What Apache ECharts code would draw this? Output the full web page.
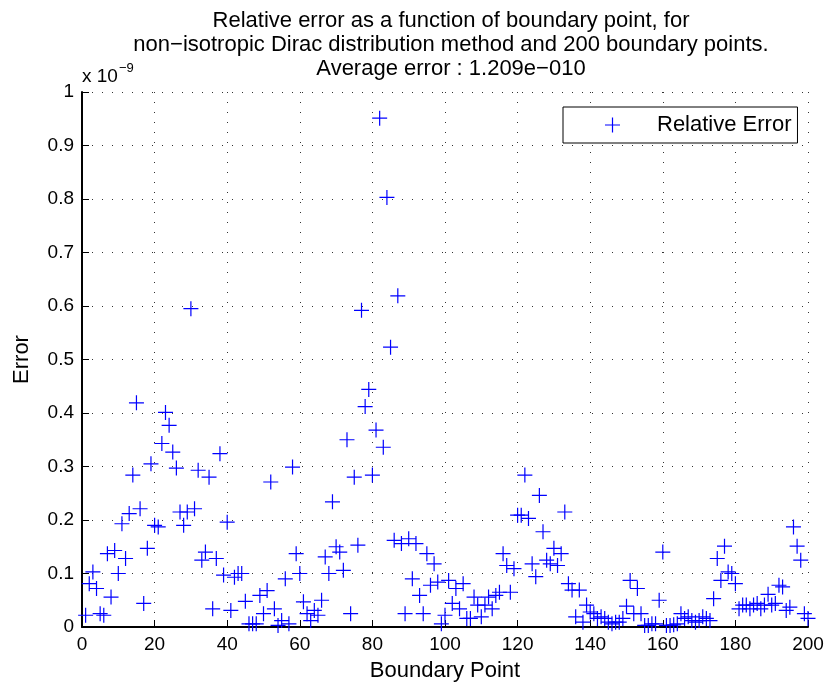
<!DOCTYPE html>
<html>
<head>
<meta charset="utf-8">
<script src="https://cdn.jsdelivr.net/npm/echarts@6/dist/echarts.min.js"></script>
<style>
html,body{margin:0;padding:0;background:#fff;}
#chart{width:833px;height:688px;}
</style>
</head>
<body>
<div id="chart"></div>
<script>
// Relative error per boundary point, in units of 1e-9
const boundaryPoints = Array.from({length: 200}, (_, i) => i + 1);
const errors1to50 = [
  0.022, 0.081, 0.103, 0.072, 0.025, 0.022, 0.137, 0.056, 0.143, 0.100,
  0.193, 0.128, 0.212, 0.284, 0.419, 0.221, 0.044, 0.147, 0.305, 0.190,
  0.187, 0.343, 0.401, 0.377, 0.327, 0.297, 0.215, 0.190, 0.215, 0.595,
  0.221, 0.293, 0.125, 0.140, 0.280, 0.034, 0.128, 0.324, 0.097, 0.196,
  0.031, 0.093, 0.100, 0.100, 0.048, 0.006, 0.006, 0.006, 0.059, 0.025
];
const errors51to100 = [
  0.068, 0.271, 0.034, 0.003, 0.012, 0.090, 0.006, 0.299, 0.137, 0.100,
  0.047, 0.025, 0.012, 0.031, 0.022, 0.050, 0.131, 0.100, 0.234, 0.150,
  0.140, 0.106, 0.350, 0.025, 0.280, 0.153, 0.592, 0.412, 0.444, 0.284,
  0.368, 0.951, 0.336, 0.803, 0.523, 0.162, 0.619, 0.156, 0.025, 0.165,
  0.090, 0.156, 0.059, 0.025, 0.137, 0.078, 0.118, 0.084, 0.006, 0.022
];
const errors101to150 = [
  0.087, 0.044, 0.072, 0.034, 0.081, 0.016, 0.016, 0.056, 0.041, 0.019,
  0.041, 0.056, 0.034, 0.059, 0.065, 0.137, 0.115, 0.065, 0.109, 0.209,
  0.209, 0.284, 0.203, 0.118, 0.094, 0.246, 0.178, 0.125, 0.118, 0.147,
  0.115, 0.137, 0.215, 0.081, 0.069, 0.019, 0.069, 0.009, 0.041, 0.028,
  0.025, 0.016, 0.019, 0.016, 0.009, 0.006, 0.009, 0.009, 0.016, 0.039
];
const errors151to200 = [
  0.087, 0.025, 0.072, 0.025, 0.003, 0.003, 0.006, 0.006, 0.050, 0.140,
  0.003, 0.003, 0.004, 0.006, 0.025, 0.016, 0.019, 0.012, 0.009, 0.012,
  0.019, 0.016, 0.012, 0.053, 0.128, 0.087, 0.151, 0.103, 0.100, 0.081,
  0.034, 0.041, 0.041, 0.034, 0.041, 0.044, 0.034, 0.041, 0.061, 0.041,
  0.044, 0.078, 0.075, 0.031, 0.037, 0.187, 0.151, 0.125, 0.025, 0.016
];
const errors = errors1to50.concat(errors51to100, errors101to150, errors151to200);
const xTicks = [0, 20, 40, 60, 80, 100, 120, 140, 160, 180, 200];
const yTicks = [0, 0.1, 0.2, 0.3, 0.4, 0.5, 0.6, 0.7, 0.8, 0.9, 1];

const FONT = 'Liberation Sans, Arial, sans-serif';
const plusPath = 'path://M6.9,0 L8.1,0 L8.1,6.9 L15,6.9 L15,8.1 L8.1,8.1 L8.1,15 L6.9,15 L6.9,8.1 L0,8.1 L0,6.9 L6.9,6.9 Z';

const chart = echarts.init(document.getElementById('chart'), null, {renderer: 'canvas'});
const gridLine = {show: true, lineStyle: {color: '#333', width: 1, type: [1, 9]}};
const axisLine = {show: true, onZero: false, lineStyle: {color: '#000', width: 2}};
const tick = {show: true, inside: true, length: 7, lineStyle: {color: '#000', width: 1}};
const labelStyle = {color: '#000', fontSize: 19, fontFamily: FONT};

chart.setOption({
  animation: false,
  backgroundColor: '#fff',
  title: {
    text: 'Relative error as a function of boundary point, for\nnon\u2212isotropic Dirac distribution method and 200 boundary points.\nAverage error : 1.209e\u2212010',
    left: 446, top: 4, textAlign: 'center',
    textStyle: {fontSize: 22, fontWeight: 'normal', fontFamily: FONT, color: '#000', lineHeight: 24}
  },
  grid: {left: 82, right: 25, top: 92, bottom: 61},
  legend: {
    left: 563, top: 107,
    data: ['Relative Error'],
    itemWidth: 15, itemHeight: 15,
    padding: [7, 6, 7, 42],
    borderColor: '#000', borderWidth: 1, backgroundColor: '#fff',
    textStyle: {fontSize: 22, fontFamily: FONT, color: '#000', padding: [0, 0, 0, 32]}
  },
  xAxis: {
    type: 'value', min: 0, max: 200, interval: 20, position: 'bottom',
    axisLine, axisTick: tick, splitLine: gridLine,
    axisLabel: Object.assign({margin: 8, formatter: v => xTicks.includes(v) ? String(v) : ''}, labelStyle),
    name: 'Boundary Point', nameLocation: 'middle', nameGap: 33,
    nameTextStyle: {fontSize: 22, fontFamily: FONT, color: '#000'}
  },
  yAxis: {
    type: 'value', min: 0, max: 1, interval: 0.1, position: 'left',
    axisLine, axisTick: tick, splitLine: gridLine,
    axisLabel: Object.assign({margin: 8, formatter: v => {
      const t = yTicks.find(k => Math.abs(k - v) < 1e-9);
      return t === undefined ? '' : String(t);
    }}, labelStyle),
    name: 'Error', nameLocation: 'middle', nameGap: 49,
    nameTextStyle: {fontSize: 22, fontFamily: FONT, color: '#000'}
  },
  graphic: [{
    type: 'text', left: 82, top: 62,
    style: {
      text: '{a|x 10}{b|\u22129}',
      rich: {
        a: {fontSize: 19, fontFamily: FONT, fill: '#000', verticalAlign: 'bottom'},
        b: {fontSize: 13, fontFamily: FONT, fill: '#000', verticalAlign: 'top', padding: [0, 0, 11, 1]}
      }
    }
  }],
  series: [{
    name: 'Relative Error',
    type: 'scatter',
    symbol: plusPath, symbolSize: 15,
    itemStyle: {color: '#0000ff', opacity: 1},
    data: boundaryPoints.map((x, i) => [x, errors[i]])
  }]
});
</script>
</body>
</html>
